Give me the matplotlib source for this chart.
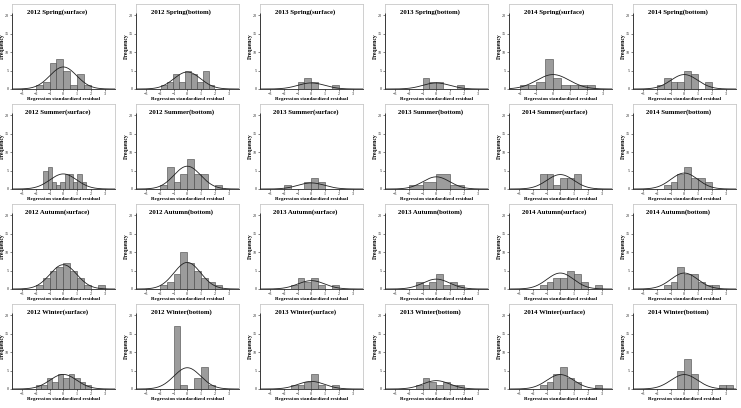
import numpy as np
import matplotlib
matplotlib.use("Agg")
import matplotlib.pyplot as plt

# histogram panels, row by row (season), column by column (year / layer)
titles = [
    "2012 Spring(surface)", "2012 Spring(bottom)", "2013 Spring(surface)",
    "2013 Spring(bottom)", "2014 Spring(surface)", "2014 Spring(bottom)",
    "2012 Summer(surface)", "2012 Summer(bottom)", "2013 Summer(surface)",
    "2013 Summer(bottom)", "2014 Summer(surface)", "2014 Summer(bottom)",
    "2012 Autumn(surface)", "2012 Autumn(bottom)", "2013 Autumn(surface)",
    "2013 Autumn(bottom)", "2014 Autumn(surface)", "2014 Autumn(bottom)",
    "2012 Winter(surface)", "2012 Winter(bottom)", "2013 Winter(surface)",
    "2013 Winter(bottom)", "2014 Winter(surface)", "2014 Winter(bottom)",
]

# left edge of first bin, bin width, bin counts
bin_starts = [
    -2.0, -1.9, -1.0, -1.0, -2.0, -2.0,
    -1.45, -2.0, -2.0, -2.0, -1.5, -1.5,
    -2.0, -2.0, -1.5, -1.5, -1.5, -1.5,
    -2.0, -1.0, -1.5, -1.5, -1.5, -0.5,
]
bin_widths = [
    0.5, 0.43, 0.5, 0.5, 0.5, 0.5,
    0.31, 0.5, 0.5, 1.0, 0.5, 0.5,
    0.5, 0.5, 0.5, 0.5, 0.5, 0.5,
    0.4, 0.5, 0.5, 0.5, 0.5, 0.5,
]
counts = [
    [1, 2, 7, 8, 5, 1, 4, 1],
    [1, 2, 4, 2, 5, 4, 2, 5, 1],
    [2, 3, 2, 0, 0, 1],
    [3, 2, 2, 0, 0, 1],
    [1, 1, 2, 8, 3, 1, 1, 1, 1],
    [1, 3, 2, 2, 5, 4, 0, 2],
    [5, 6, 2, 1, 2, 4, 4, 2, 4, 2],
    [1, 6, 2, 4, 8, 4, 4, 0, 1],
    [1, 0, 0, 2, 3, 2],
    [1, 2, 4, 1],
    [4, 4, 1, 3, 3, 4],
    [1, 2, 4, 6, 3, 3, 2],
    [1, 3, 5, 6, 7, 5, 3, 1, 0, 1],
    [1, 2, 4, 10, 7, 5, 3, 2, 1],
    [1, 3, 2, 3, 1, 0, 1],
    [2, 1, 2, 4, 1, 2, 1],
    [1, 2, 3, 3, 5, 4, 2, 0, 1],
    [1, 2, 6, 4, 4, 2, 1, 1],
    [1, 1, 3, 2, 4, 3, 4, 3, 2, 1],
    [17, 1, 0, 3, 6, 1],
    [1, 1, 2, 4, 1, 0, 1],
    [1, 3, 2, 1, 2, 1, 1],
    [1, 2, 4, 6, 3, 2, 0, 0, 1],
    [5, 8, 4, 0, 0, 0, 1, 1],
]
resid_mean = 0.0
resid_sd = 0.97

# layout in pixels
FIG_W, FIG_H = 741, 408
COL_LEFT = [12, 136, 260, 385, 509, 633]
ROW_BASE = [89, 189, 289, 389]
AX_W, AX_H = 103, 85
YMAX = 23

plt.rcParams['font.family'] = ['Liberation Serif', 'DejaVu Serif']

fig = plt.figure(figsize=(FIG_W / 100, FIG_H / 100), dpi=100)

for k, title in enumerate(titles):
    r, c = divmod(k, 6)
    ax = fig.add_axes([COL_LEFT[c] / FIG_W, 1 - ROW_BASE[r] / FIG_H,
                       AX_W / FIG_W, AX_H / FIG_H])

    if k == 4:
        xmin, xmax, xt = -2.63, 3.52, [-2, -1, 0, 1, 2, 3]
    else:
        xmin, xmax, xt = -3.72, 3.75, [-3, -2, -1, 0, 1, 2, 3]

    w = bin_widths[k]
    cnt = counts[k]
    edges = bin_starts[k] + w * np.arange(len(cnt))
    ax.bar(edges, cnt, width=w, align="edge", color="#9c9c9c",
           edgecolor="#444444", linewidth=0.4, zorder=2)

    # normal curve scaled to the histogram
    xs = np.linspace(xmin, xmax, 300)
    n = sum(cnt)
    ys = n * w * np.exp(-0.5 * ((xs - resid_mean) / resid_sd) ** 2) / (resid_sd * np.sqrt(2 * np.pi))
    ax.plot(xs, ys, color="#202020", lw=0.6, zorder=3)

    ax.set_xlim(xmin, xmax)
    ax.set_ylim(0, YMAX)
    ax.set_xticks(xt)
    ax.set_yticks([0, 5, 10, 15, 20])
    ax.tick_params(length=1.5, width=0.4, labelsize=3, pad=0.8, colors="#222222")

    for s in ["top", "right", "left"]:
        ax.spines[s].set_color("#c8c8c8")
        ax.spines[s].set_linewidth(0.6)
    ax.spines["bottom"].set_color("#222222")
    ax.spines["bottom"].set_linewidth(0.6)
    ax.vlines(xmin, 0, 20.7, color="#222222", lw=0.6, clip_on=False, zorder=4)

    ax.text(0.44, 0.905, title, transform=ax.transAxes, ha="center", va="center",
            fontsize=4.9, fontweight="bold")
    ax.text(0.5, -10 / AX_H, "Regression standardized residual", transform=ax.transAxes,
            ha="center", va="center", fontsize=3.7, fontweight="bold")
    ax.text(-10 / AX_W, 0.5, "Frequency", transform=ax.transAxes, rotation=90,
            ha="center", va="center", fontsize=4.1, fontweight="bold")

fig.savefig("out.png", dpi=100)
